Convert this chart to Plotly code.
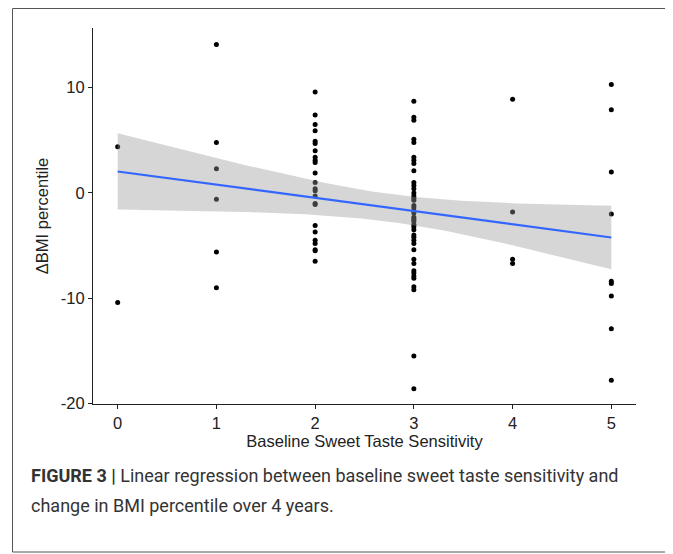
import numpy as np
import plotly.graph_objects as go

# ---- data ----
sens_0 = [4.4, -10.4]
sens_1 = [14.1, 4.8, 2.3, -0.6, -5.6, -9.0]
sens_2 = [9.6, 7.4, 6.5, 5.9, 4.9, 4.7, 4.0, 3.4, 3.1, 2.9, 1.9, 1.0, 0.4, 0.2,
          -0.3, -1.0, -1.1, -3.1, -3.7, -4.5, -4.8, -5.4, -5.5, -6.5]
sens_3 = [8.7, 7.2, 6.9, 5.1, 4.8, 3.4, 3.1, 2.8, 2.1, 1.0, 0.7, 0.4, 0.0, -0.3,
          -0.5, -0.7, -1.2, -1.4, -1.7, -1.9, -2.3, -2.5, -2.7, -3.0, -3.2, -3.5,
          -4.0, -4.2, -4.5, -4.8, -5.4, -6.3, -6.7, -7.4, -7.6, -7.9, -8.1, -8.9,
          -9.2, -15.5, -18.6]
sens_4 = [8.9, -1.8, -6.3, -6.7]
sens_5 = [10.3, 7.9, 2.0, -2.0, -8.4, -8.6, -9.8, -12.9, -17.8]
groups = [sens_0, sens_1, sens_2, sens_3, sens_4, sens_5]
x_ticks = [0, 1, 2, 3, 4, 5]
y_ticks = [-20, -10, 0, 10]
y_tick_text = ["-20", "-10", "0", "10"]

x_title = "Baseline Sweet Taste Sensitivity"
y_title = "ΔBMI percentile"
caption_bold = "FIGURE 3 |"
caption_l1 = " Linear regression between baseline sweet taste sensitivity and"
caption_l2 = "change in BMI percentile over 4 years."

x = np.concatenate([[k] * len(g) for k, g in zip(x_ticks, groups)]).astype(float)
y = np.concatenate(groups).astype(float)

# ---- linear model with 95% CI (as geom_smooth(method="lm")) ----
n = len(x)
b1, b0 = np.polyfit(x, y, 1)
resid = y - (b0 + b1 * x)
s = np.sqrt(np.sum(resid ** 2) / (n - 2))
xm = x.mean()
sxx = np.sum((x - xm) ** 2)
df = n - 2
z = 1.959964
tq = z + (z ** 3 + z) / (4 * df) + (5 * z ** 5 + 16 * z ** 3 + 3 * z) / (96 * df ** 2)
xg = np.linspace(0, 5, 80)
yg = b0 + b1 * xg
se = s * np.sqrt(1 / n + (xg - xm) ** 2 / sxx)
lo, hi = yg - tq * se, yg + tq * se

# ---- layout geometry (window pixels; page body has an 8px margin) ----
OFF = 8
W, H = 673 - OFF, 554 - OFF
L, T = 93 - OFF, 28 - OFF
R = W - (636 - OFF)
B = H - (404 - OFF)
pw, ph = W - L - R, H - T - B


def px(xp):
    return (xp - OFF - L) / pw


def py(yp):
    return (H - B - (yp - OFF)) / ph


fig = go.Figure()
fig.add_trace(go.Scatter(x=x, y=y, mode="markers",
                         marker=dict(color="black", size=5, line=dict(width=0)),
                         showlegend=False, hoverinfo="skip"))
fig.add_trace(go.Scatter(x=np.concatenate([xg, xg[::-1]]), y=np.concatenate([hi, lo[::-1]]),
                         fill="toself", fillcolor="rgba(153,153,153,0.4)",
                         line=dict(width=0), mode="lines", showlegend=False, hoverinfo="skip"))
fig.add_trace(go.Scatter(x=xg, y=yg, mode="lines", line=dict(color="#3366FF", width=2.2),
                         showlegend=False, hoverinfo="skip"))

axis_font = dict(family="Liberation Sans, Arial, sans-serif", size=16.5, color="#222222")
fig.update_xaxes(range=[-0.25, 5.25], tickvals=x_ticks, showgrid=False, zeroline=False,
                 showline=True, linecolor="#222222", linewidth=1, ticks="outside",
                 ticklen=4, tickcolor="#222222", tickfont=axis_font,
                 title=dict(text=x_title, font=axis_font, standoff=2))
fig.update_yaxes(range=[-20.05, 15.67], tickvals=y_ticks, ticktext=y_tick_text,
                 showgrid=False, zeroline=False,
                 showline=True, linecolor="#222222", linewidth=1, ticks="outside",
                 ticklen=4, tickcolor="#222222", tickfont=axis_font,
                 title=dict(text=y_title, font=axis_font, standoff=8))

# frame around the figure
fig.add_shape(type="rect", xref="paper", yref="paper",
              x0=px(12.5), x1=px(667.5), y0=py(552), y1=py(8.5),
              line=dict(color="#555555", width=1), fillcolor="rgba(0,0,0,0)")

cap_font = dict(family="Roboto, Liberation Sans, sans-serif", size=18, color="#333333")
fig.add_annotation(xref="paper", yref="paper", x=px(29), y=py(475), xanchor="left",
                   yanchor="middle", showarrow=False, align="left",
                   text="<b>" + caption_bold + "</b>" + caption_l1, font=cap_font)
fig.add_annotation(xref="paper", yref="paper", x=px(29), y=py(505), xanchor="left",
                   yanchor="middle", showarrow=False, align="left",
                   text=caption_l2, font=cap_font)

fig.update_layout(width=W, height=H, margin=dict(l=L, r=R, t=T, b=B),
                  paper_bgcolor="white", plot_bgcolor="white")

fig.write_html("out.html")
